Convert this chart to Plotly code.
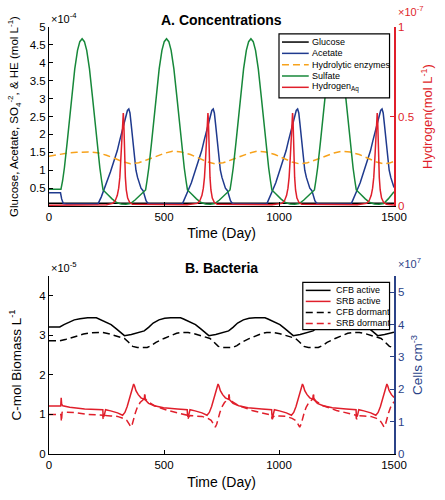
import plotly.graph_objects as go

# ---------------- Panel A: concentrations ----------------
# left axis values are in units of 1e-4 mol/L, right axis (hydrogen) in 1e-7 mol/L
glucose_day = [0, 500, 1000, 1500]
glucose = [0.08, 0.08, 0.08, 0.08]

acetate_day = [0, 50, 55, 62, 75,
               213, 227, 237, 252, 267, 282, 297, 307, 319, 332, 341, 347, 352, 357, 364, 371, 378, 385, 392, 400, 409, 415, 422, 429, 439,
               580, 594, 604, 619, 634, 649, 664, 674, 686, 699, 708, 714, 719, 724, 731, 738, 745, 752, 759, 767, 776, 782, 789, 796, 806,
               947, 961, 971, 986, 1001, 1016, 1031, 1041, 1053, 1066, 1075, 1081, 1086, 1091, 1098, 1105, 1112, 1119, 1126, 1134, 1143, 1149, 1156, 1163, 1173,
               1314, 1328, 1338, 1353, 1368, 1383, 1398, 1408, 1420, 1433, 1442, 1448, 1453, 1458, 1465, 1472, 1479, 1486, 1493, 1500]
acetate = [0.37, 0.37, 0.2, 0.07, 0.06,
           0.06, 0.25, 0.42, 0.65, 0.95, 1.25, 1.55, 1.82, 2.15, 2.48, 2.67, 2.71, 2.6, 2.3, 1.8, 1.35, 1.0, 0.8, 0.62, 0.5, 0.43, 0.3, 0.15, 0.08, 0.06,
           0.06, 0.25, 0.42, 0.65, 0.95, 1.25, 1.55, 1.82, 2.15, 2.48, 2.67, 2.71, 2.6, 2.3, 1.8, 1.35, 1.0, 0.8, 0.62, 0.5, 0.43, 0.3, 0.15, 0.08, 0.06,
           0.06, 0.25, 0.42, 0.65, 0.95, 1.25, 1.55, 1.82, 2.15, 2.48, 2.67, 2.71, 2.6, 2.3, 1.8, 1.35, 1.0, 0.8, 0.62, 0.5, 0.43, 0.3, 0.15, 0.08, 0.06,
           0.06, 0.25, 0.42, 0.65, 0.95, 1.25, 1.55, 1.82, 2.15, 2.48, 2.67, 2.71, 2.6, 2.3, 1.8, 1.35, 1.0, 0.8, 0.62, 0.52]

enzyme_day = [0, 40, 80, 120, 170, 210, 250, 290, 320, 354, 390, 430, 470, 505, 537, 575, 615, 655, 690, 721,
              757, 797, 837, 872, 904, 942, 982, 1022, 1057, 1088, 1124, 1164, 1204, 1239, 1271, 1309, 1349,
              1389, 1424, 1455, 1480, 1500]
enzyme = [1.39, 1.44, 1.48, 1.50, 1.51, 1.49, 1.42, 1.32, 1.24, 1.18, 1.21, 1.30, 1.40, 1.48, 1.53, 1.51, 1.44, 1.33, 1.23, 1.18,
          1.21, 1.30, 1.40, 1.48, 1.53, 1.51, 1.44, 1.33, 1.23, 1.18, 1.21, 1.30, 1.40, 1.48, 1.53, 1.51, 1.44,
          1.33, 1.23, 1.18, 1.20, 1.25]

sulfate_day = [0, 52, 59, 67, 79, 90, 99, 112, 124, 134, 144, 154, 164, 176, 189, 198, 209, 221, 229, 235,
               254, 274, 294, 314, 334, 354, 374, 394, 420,
               426, 434, 446, 457, 466, 479, 491, 501, 511, 521, 531, 543, 556, 565, 576, 588, 596, 602,
               621, 641, 661, 681, 701, 721, 741, 761, 787,
               793, 801, 813, 824, 833, 846, 858, 868, 878, 888, 898, 910, 923, 932, 943, 955, 963, 969,
               988, 1008, 1028, 1048, 1068, 1088, 1108, 1128, 1154,
               1160, 1168, 1180, 1191, 1200, 1213, 1225, 1235, 1245, 1255, 1265, 1277, 1290, 1299, 1310, 1322, 1330, 1336,
               1355, 1375, 1395, 1415, 1435, 1455, 1475, 1500]
sulfate = [0.47, 0.47, 0.7, 1.07, 1.78, 2.45, 3.05, 3.83, 4.35, 4.59, 4.67, 4.59, 4.35, 3.83, 3.05, 2.45, 1.78, 1.07, 0.7, 0.45,
           0.33, 0.2, 0.1, 0.06, 0.05, 0.07, 0.17, 0.3, 0.45,
           0.7, 1.07, 1.78, 2.45, 3.05, 3.83, 4.35, 4.59, 4.67, 4.59, 4.35, 3.83, 3.05, 2.45, 1.78, 1.07, 0.7, 0.45,
           0.33, 0.2, 0.1, 0.06, 0.05, 0.07, 0.17, 0.3, 0.45,
           0.7, 1.07, 1.78, 2.45, 3.05, 3.83, 4.35, 4.59, 4.67, 4.59, 4.35, 3.83, 3.05, 2.45, 1.78, 1.07, 0.7, 0.45,
           0.33, 0.2, 0.1, 0.06, 0.05, 0.07, 0.17, 0.3, 0.45,
           0.7, 1.07, 1.78, 2.45, 3.05, 3.83, 4.35, 4.59, 4.67, 4.59, 4.35, 3.83, 3.05, 2.45, 1.78, 1.07, 0.7, 0.45,
           0.33, 0.2, 0.1, 0.06, 0.05, 0.07, 0.2, 0.4]

hydrogen_day = [0, 250, 277, 288, 297, 303, 308, 313, 317, 320, 323, 325, 327, 329, 332, 336, 342, 351, 363,
                600, 645, 656, 665, 671, 676, 681, 685, 688, 691, 693, 695, 697, 700, 704, 710, 719, 731,
                970, 1013, 1024, 1033, 1039, 1044, 1049, 1053, 1056, 1059, 1061, 1063, 1065, 1068, 1072, 1078, 1087, 1099,
                1340, 1381, 1392, 1401, 1407, 1412, 1417, 1421, 1424, 1427, 1429, 1431, 1433, 1436, 1440, 1446, 1455, 1467, 1500]
hydrogen = [0.005, 0.008, 0.015, 0.03, 0.06, 0.1, 0.16, 0.27, 0.38, 0.47, 0.52, 0.48, 0.38, 0.27, 0.16, 0.09, 0.045, 0.02, 0.01,
            0.008, 0.015, 0.03, 0.06, 0.1, 0.16, 0.27, 0.38, 0.47, 0.52, 0.48, 0.38, 0.27, 0.16, 0.09, 0.045, 0.02, 0.01,
            0.008, 0.015, 0.03, 0.06, 0.1, 0.16, 0.27, 0.38, 0.47, 0.52, 0.48, 0.38, 0.27, 0.16, 0.09, 0.045, 0.02, 0.01,
            0.008, 0.015, 0.03, 0.06, 0.1, 0.16, 0.27, 0.38, 0.47, 0.52, 0.48, 0.38, 0.27, 0.16, 0.09, 0.045, 0.02, 0.01, 0.006]

# ---------------- Panel B: bacteria (1e-5 C-mol/L) ----------------
cfb_act_day = [0, 47, 65, 85, 110, 135, 168, 206, 218, 238, 270, 293, 313, 328,
               358, 388, 414, 433, 453, 478, 503, 529, 572, 585, 605, 637, 660, 680, 695,
               725, 755, 781, 800, 820, 845, 870, 896, 939, 952, 972, 1004, 1027, 1047, 1062,
               1092, 1122, 1148, 1167, 1187, 1212, 1237, 1263, 1306, 1319, 1339, 1371, 1394, 1414, 1429,
               1459, 1489, 1500]
cfb_act = [3.21, 3.21, 3.27, 3.33, 3.39, 3.42, 3.44, 3.44, 3.41, 3.36, 3.27, 3.16, 3.06, 2.99,
           3.02, 3.06, 3.11, 3.2, 3.31, 3.39, 3.43, 3.44, 3.44, 3.41, 3.36, 3.27, 3.16, 3.06, 2.99,
           3.02, 3.06, 3.11, 3.2, 3.31, 3.39, 3.43, 3.44, 3.44, 3.41, 3.36, 3.27, 3.16, 3.06, 2.99,
           3.02, 3.06, 3.11, 3.2, 3.31, 3.39, 3.43, 3.44, 3.44, 3.41, 3.36, 3.27, 3.16, 3.06, 2.99,
           3.02, 3.06, 3.08]

cfb_dor_day = [0, 47, 75, 100, 125, 150, 175, 198, 233, 260, 290, 328, 345, 364, 384, 427, 445, 465,
               500, 530, 555, 575, 605, 632, 662, 700, 717, 736, 756, 799, 817, 837,
               872, 902, 927, 947, 977, 1004, 1034, 1072, 1089, 1108, 1128, 1171, 1189, 1209,
               1244, 1274, 1299, 1319, 1349, 1376, 1406, 1444, 1461, 1480, 1500]
cfb_dor = [2.86, 2.86, 2.9, 2.95, 2.99, 3.03, 3.06, 3.07, 3.07, 3.04, 2.99, 2.92, 2.83, 2.72, 2.69, 2.69, 2.74, 2.82,
           2.92, 3.0, 3.05, 3.07, 3.07, 3.04, 2.99, 2.92, 2.83, 2.72, 2.69, 2.69, 2.74, 2.82,
           2.92, 3.0, 3.05, 3.07, 3.07, 3.04, 2.99, 2.92, 2.83, 2.72, 2.69, 2.69, 2.74, 2.82,
           2.92, 3.0, 3.05, 3.07, 3.07, 3.04, 2.99, 2.92, 2.83, 2.72, 2.69]

srb_act_day = [0, 51, 53, 55, 60, 90, 155,
               234, 235, 237, 240, 243, 246, 268, 298, 320, 330, 340, 350, 358, 364, 368, 372, 378, 388, 400, 414, 416, 418, 423, 433, 458, 498, 558, 601,
               602, 604, 607, 610, 613, 635, 665, 687, 697, 707, 717, 725, 731, 735, 739, 745, 755, 767, 781, 783, 785, 790, 800, 825, 865, 925, 968,
               969, 971, 974, 977, 980, 1002, 1032, 1054, 1064, 1074, 1084, 1092, 1098, 1102, 1106, 1112, 1122, 1134, 1148, 1150, 1152, 1157, 1167, 1192, 1232, 1292, 1335,
               1336, 1338, 1341, 1344, 1347, 1369, 1399, 1421, 1431, 1441, 1451, 1459, 1465, 1469, 1473, 1479, 1489, 1500]
srb_act = [1.21, 1.21, 1.42, 1.26, 1.22, 1.18, 1.14,
           1.12, 1.0, 0.94, 0.97, 1.1, 1.12, 1.09, 1.04, 0.98, 1.05, 1.2, 1.42, 1.62, 1.74, 1.77, 1.72, 1.6, 1.5, 1.42, 1.38, 1.5, 1.37, 1.33, 1.28, 1.22, 1.17, 1.14, 1.12,
           1.0, 0.94, 0.97, 1.1, 1.12, 1.09, 1.04, 0.98, 1.05, 1.2, 1.42, 1.62, 1.74, 1.77, 1.72, 1.6, 1.5, 1.42, 1.38, 1.5, 1.37, 1.33, 1.28, 1.22, 1.17, 1.14, 1.12,
           1.0, 0.94, 0.97, 1.1, 1.12, 1.09, 1.04, 0.98, 1.05, 1.2, 1.42, 1.62, 1.74, 1.77, 1.72, 1.6, 1.5, 1.42, 1.38, 1.5, 1.37, 1.33, 1.28, 1.22, 1.17, 1.14, 1.12,
           1.0, 0.94, 0.97, 1.1, 1.12, 1.09, 1.04, 0.98, 1.05, 1.2, 1.42, 1.62, 1.74, 1.77, 1.72, 1.6, 1.5, 1.43]

srb_dor_day = [0, 52, 54, 57, 70, 110, 170,
               234, 235, 237, 240, 243, 246, 268, 298, 323, 338, 348, 356, 362, 368, 376, 384, 396, 407, 414, 416, 418, 428, 458, 516, 580, 601,
               602, 604, 607, 610, 613, 635, 665, 690, 705, 715, 723, 729, 735, 743, 751, 763, 774, 781, 783, 785, 795, 825, 883, 947, 968,
               969, 971, 974, 977, 980, 1002, 1032, 1057, 1072, 1082, 1090, 1096, 1102, 1110, 1118, 1130, 1141, 1148, 1150, 1152, 1162, 1192, 1250, 1314, 1335,
               1336, 1338, 1341, 1344, 1347, 1369, 1399, 1424, 1439, 1449, 1457, 1463, 1469, 1477, 1485, 1497, 1500]
srb_dor = [1.0, 1.0, 0.82, 1.05, 1.06, 1.05, 1.0,
           0.98, 0.9, 0.88, 0.93, 0.97, 0.97, 0.96, 0.95, 0.9, 0.85, 0.76, 0.68, 0.75, 0.9, 1.05, 1.18, 1.3, 1.36, 1.4, 1.5, 1.4, 1.33, 1.22, 1.1, 1.02, 0.98,
           0.9, 0.88, 0.93, 0.97, 0.97, 0.96, 0.95, 0.9, 0.85, 0.76, 0.68, 0.75, 0.9, 1.05, 1.18, 1.3, 1.36, 1.4, 1.5, 1.4, 1.33, 1.22, 1.1, 1.02, 0.98,
           0.9, 0.88, 0.93, 0.97, 0.97, 0.96, 0.95, 0.9, 0.85, 0.76, 0.68, 0.75, 0.9, 1.05, 1.18, 1.3, 1.36, 1.4, 1.5, 1.4, 1.33, 1.22, 1.1, 1.02, 0.98,
           0.9, 0.88, 0.93, 0.97, 0.97, 0.96, 0.95, 0.9, 0.85, 0.76, 0.68, 0.75, 0.9, 1.05, 1.18, 1.3, 1.32]

x_ticks = [0, 500, 1000, 1500]
a_left_ticks = [0.5, 1, 1.5, 2, 2.5, 3, 3.5, 4, 4.5, 5]
a_left_text = ["0.5", "1", "1.5", "2", "2.5", "3", "3.5", "4", "4.5", "5"]
a_right_ticks = [0, 0.5, 1]
b_left_ticks = [0, 1, 2, 3, 4]
b_right_ticks = [0, 1, 2, 3, 4, 5]

# ---------------- styling ----------------
FONT = "Liberation Sans, Arial, sans-serif"
BLACK = "#000000"
BLUE = "#1f3a8e"
ORANGE = "#f7a21b"
GREEN = "#17883a"
RED = "#e01f2b"
NAVY = "#2b4388"
LW = 1.5

W, H = 445, 500
ML, MR, MT, MB = 49, 48, 27, 39
PW, PH = W - ML - MR, H - MT - MB


def px_x(px):
    return (px - ML) / PW


def px_y(py):
    return (H - MB - py) / PH


fig = go.Figure()

def add_line(x, y, name, color, xa, ya, dash=None):
    fig.add_trace(go.Scatter(x=x, y=y, name=name, mode="lines", xaxis=xa, yaxis=ya,
                             line=dict(color=color, width=LW, dash=dash), showlegend=False))

DASH = "7px,4px"
add_line(glucose_day, glucose, "Glucose", BLACK, "x", "y")
add_line(acetate_day, acetate, "Acetate", BLUE, "x", "y")
add_line(enzyme_day, enzyme, "Hydrolytic enzymes", ORANGE, "x", "y", DASH)
add_line(sulfate_day, sulfate, "Sulfate", GREEN, "x", "y")
add_line(hydrogen_day, hydrogen, "Hydrogen Aq", RED, "x", "y2")

add_line(cfb_act_day, cfb_act, "CFB active", BLACK, "x2", "y3")
add_line(srb_act_day, srb_act, "SRB active", RED, "x2", "y3")
add_line(cfb_dor_day, cfb_dor, "CFB dormant", BLACK, "x2", "y3", DASH)
add_line(srb_dor_day, srb_dor, "SRB dormant", RED, "x2", "y3", DASH)
# invisible trace so the cell-count axis is drawn
fig.add_trace(go.Scatter(x=[0], y=[0], xaxis="x2", yaxis="y4", mode="markers",
                         marker=dict(opacity=0), showlegend=False, hoverinfo="skip"))

TOP_DOM = [px_y(209), 1.0]
BOT_DOM = [0.0, px_y(280)]

def xaxis_cfg(standoff):
    return dict(range=[0, 1500], tickvals=x_ticks, ticks="inside", ticklen=4, tickcolor=BLACK,
                showline=True, linecolor=BLACK, linewidth=1, showgrid=False, zeroline=False,
                tickfont=dict(size=11.5, color=BLACK, family=FONT),
                title=dict(text="Time (Day)", font=dict(size=14, color=BLACK, family=FONT), standoff=standoff))

fig.update_layout(
    width=W, height=H, margin=dict(l=ML, r=MR, t=MT, b=MB),
    paper_bgcolor="white", plot_bgcolor="white",
    font=dict(family=FONT, color=BLACK),
    xaxis=dict(domain=[0, 1], anchor="y", **xaxis_cfg(6)),
    xaxis2=dict(domain=[0, 1], anchor="y3", **xaxis_cfg(7)),
    yaxis=dict(domain=TOP_DOM, anchor="x", range=[0, 5], tickvals=a_left_ticks, ticktext=a_left_text,
               ticks="inside", ticklen=4, tickcolor=BLACK, showline=True, linecolor=BLACK, linewidth=1,
               showgrid=False, zeroline=False, tickfont=dict(size=11.5, color=BLACK),
               title=dict(text="Glucose, Acetate, SO<sub>4</sub><sup>-2</sup>, & HE (mol L<sup>-1</sup>)",
                          font=dict(size=11.5, color=BLACK), standoff=8)),
    yaxis2=dict(overlaying="y", anchor="x", side="right", range=[0, 1], tickvals=a_right_ticks,
                ticktext=["0", "0.5", "1"], ticks="inside", ticklen=4, tickcolor=RED, showline=True,
                linecolor=RED, linewidth=1.5, showgrid=False, zeroline=False,
                tickfont=dict(size=11.5, color=RED),
                title=dict(text="Hydrogen(mol L<sup>-1</sup>)", font=dict(size=13, color=RED), standoff=10)),
    yaxis3=dict(domain=BOT_DOM, anchor="x2", range=[0, 4.5], tickvals=b_left_ticks,
                ticks="inside", ticklen=4, tickcolor=BLACK, showline=True, linecolor=BLACK, linewidth=1,
                showgrid=False, zeroline=False, tickfont=dict(size=11.5, color=BLACK),
                title=dict(text="C-mol Biomass L<sup>-1</sup>", font=dict(size=13.5, color=BLACK), standoff=14)),
    yaxis4=dict(overlaying="y3", anchor="x2", side="right", range=[0, 5.5], tickvals=b_right_ticks,
                ticks="inside", ticklen=4, tickcolor=NAVY, showline=True, linecolor=NAVY, linewidth=1.5,
                showgrid=False, zeroline=False, tickfont=dict(size=11.5, color=NAVY),
                title=dict(text="Cells cm<sup>-3</sup>", font=dict(size=13.5, color=NAVY), standoff=9)),
)

ann = []
# panel titles
ann.append(dict(text="<b>A. Concentrations</b>", xref="paper", yref="paper", x=0.5, y=px_y(19.5),
                xanchor="center", yanchor="middle", showarrow=False, font=dict(size=14, color=BLACK)))
ann.append(dict(text="<b>B. Bacteria</b>", xref="paper", yref="paper", x=0.5, y=px_y(272),
                xanchor="center", yanchor="middle", showarrow=False, font=dict(size=14, color=BLACK)))
# axis multipliers
ann.append(dict(text="\u00d710<sup>-4</sup>", xref="paper", yref="paper", x=px_x(49), y=px_y(27),
                xanchor="left", yanchor="bottom", showarrow=False, font=dict(size=11, color=BLACK)))
ann.append(dict(text="\u00d710<sup>-7</sup>", xref="paper", yref="paper", x=px_x(399), y=px_y(20),
                xanchor="left", yanchor="bottom", showarrow=False, font=dict(size=11, color=RED)))
ann.append(dict(text="\u00d710<sup>-5</sup>", xref="paper", yref="paper", x=px_x(49), y=px_y(280),
                xanchor="left", yanchor="bottom", showarrow=False, font=dict(size=11, color=BLACK)))
ann.append(dict(text="\u00d710<sup>7</sup>", xref="paper", yref="paper", x=px_x(399), y=px_y(276),
                xanchor="left", yanchor="bottom", showarrow=False, font=dict(size=11, color=NAVY)))

shapes = []
# manual legends
legA_names = ["Glucose", "Acetate", "Hydrolytic enzymes", "Sulfate", "Hydrogen<sub>Aq</sub>"]
legA_colors = [BLACK, BLUE, ORANGE, GREEN, RED]
legA_dash = ["solid", "solid", DASH, "solid", "solid"]
legA_y = [42.3, 53.8, 65.3, 76.8, 88.3]
shapes.append(dict(type="rect", xref="paper", yref="paper", x0=px_x(281), x1=px_x(392.5),
                   y0=px_y(99), y1=px_y(34), line=dict(color=BLACK, width=1.2), fillcolor="white", layer="above"))
for nm, c, d, yy in zip(legA_names, legA_colors, legA_dash, legA_y):
    shapes.append(dict(type="line", xref="paper", yref="paper", x0=px_x(284), x1=px_x(311),
                       y0=px_y(yy), y1=px_y(yy), line=dict(color=c, width=LW, dash=d), layer="above"))
    ann.append(dict(text=nm, xref="paper", yref="paper", x=px_x(312.5), y=px_y(yy), xanchor="left",
                    yanchor="middle", showarrow=False, font=dict(size=9, color=BLACK)))

legB_names = ["CFB active", "SRB active", "CFB dormant", "SRB dormant"]
legB_colors = [BLACK, RED, BLACK, RED]
legB_dash = ["solid", "solid", DASH, DASH]
legB_y = [294.7, 305.9, 317.1, 328.3]
shapes.append(dict(type="rect", xref="paper", yref="paper", x0=px_x(305), x1=px_x(392.5),
                   y0=px_y(334.5), y1=px_y(286.5), line=dict(color=BLACK, width=1.2), fillcolor="white", layer="above"))
for nm, c, d, yy in zip(legB_names, legB_colors, legB_dash, legB_y):
    shapes.append(dict(type="line", xref="paper", yref="paper", x0=px_x(308), x1=px_x(333),
                       y0=px_y(yy), y1=px_y(yy), line=dict(color=c, width=LW, dash=d), layer="above"))
    ann.append(dict(text=nm, xref="paper", yref="paper", x=px_x(336), y=px_y(yy), xanchor="left",
                    yanchor="middle", showarrow=False, font=dict(size=9, color=BLACK)))

fig.update_layout(annotations=ann, shapes=shapes)

fig.write_html("out.html", config={"displayModeBar": False},
               post_script="document.body.style.margin='0';document.body.style.overflow='hidden';")
